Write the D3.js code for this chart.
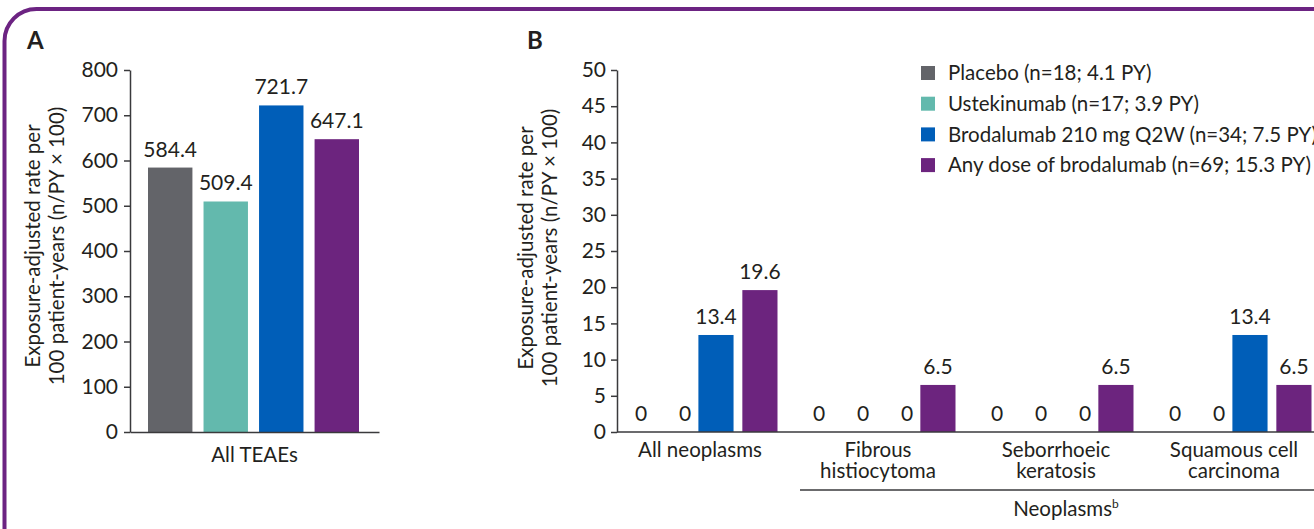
<!DOCTYPE html>
<html>
<head>
<meta charset="utf-8">
<script src="https://cdn.jsdelivr.net/npm/d3@7"></script>
<style>
  body { margin: 0; background: #fff; }
  svg { display: block; font-family: Lato, "Open Sans", sans-serif; }
  .axis path, .axis line { stroke: #3a3a3c; stroke-width: 1.5; }
  .axis text { font-size: 21px; fill: #231f20; font-family: Lato, sans-serif; }
  .lbl { font-size: 20.5px; fill: #231f20; }
  .val { font-size: 21px; fill: #231f20; }
</style>
</head>
<body>
<div id="chart"></div>
<script>
// series
var series = ["Placebo", "Ustekinumab", "Brodalumab 210 mg Q2W", "Any dose of brodalumab"];
var legendLabels = [
  "Placebo (n=18; 4.1 PY)",
  "Ustekinumab (n=17; 3.9 PY)",
  "Brodalumab 210 mg Q2W (n=34; 7.5 PY)",
  "Any dose of brodalumab (n=69; 15.3 PY)"
];
var colors = ["#636469", "#63b9ad", "#005eb8", "#6c247e"];

// panel A
var catsA = ["All TEAEs"];
var valuesA = [[584.4, 509.4, 721.7, 647.1]];
var ticksA = [0, 100, 200, 300, 400, 500, 600, 700, 800];

// panel B
var catsB = ["All neoplasms", "Fibrous histiocytoma", "Seborrhoeic keratosis", "Squamous cell carcinoma"];
var catsBLines = [["All neoplasms"], ["Fibrous", "histiocytoma"], ["Seborrhoeic", "keratosis"], ["Squamous cell", "carcinoma"]];
var valuesB = [
  [0, 0, 13.4, 19.6],
  [0, 0, 0, 6.5],
  [0, 0, 0, 6.5],
  [0, 0, 13.4, 6.5]
];
var ticksB = [0, 5, 10, 15, 20, 25, 30, 35, 40, 45, 50];

var W = 1314, H = 529;
var svg = d3.select("#chart").append("svg")
  .attr("width", W)
  .attr("height", H);

// purple frame
svg.append("rect")
  .attr("x", 4.5).attr("y", 9)
  .attr("width", W + 40).attr("height", H + 40)
  .attr("rx", 32).attr("ry", 32)
  .attr("fill", "none")
  .attr("stroke", "#6c2382")
  .attr("stroke-width", 4);

var fmt = function (v) { return v === 0 ? "0" : v.toFixed(1); };

function yTitle(x, cy) {
  var t = svg.append("text")
    .attr("class", "lbl")
    .attr("transform", "translate(" + x + "," + cy + ")rotate(-90)")
    .attr("text-anchor", "middle");
  t.append("tspan").attr("x", 0).attr("dy", 0).text("Exposure-adjusted rate per");
  t.append("tspan").attr("x", 0).attr("dy", 24).text("100 patient-years (n/PY × 100)");
}

// ---------- panel A ----------
var yA = d3.scaleLinear().domain([0, 800]).range([432, 70]);
var xA = d3.scaleBand().domain(catsA).range([130, 379]);
var xA1 = d3.scaleBand().domain(series).range([18, 229]).paddingInner(0.2);

svg.append("text").attr("x", 27).attr("y", 49)
  .style("font-size", "24px").style("font-weight", "bold").attr("fill", "#231f20").text("A");

yTitle(40, 246);

svg.append("g").attr("class", "axis")
  .attr("transform", "translate(130,0)")
  .call(d3.axisLeft(yA).tickValues(ticksA).tickSize(6).tickPadding(6).tickSizeOuter(0));

catsA.forEach(function (c, ci) {
  var g = svg.append("g").attr("transform", "translate(" + xA(c) + ",0)");
  var rows = series.map(function (s, i) { return { s: s, v: valuesA[ci][i], c: colors[i] }; });
  g.selectAll("rect").data(rows).enter().append("rect")
    .attr("x", function (d) { return xA1(d.s); })
    .attr("y", function (d) { return yA(d.v); })
    .attr("width", xA1.bandwidth())
    .attr("height", function (d) { return yA(0) - yA(d.v); })
    .attr("fill", function (d) { return d.c; });
  g.selectAll("text").data(rows).enter().append("text")
    .attr("class", "val")
    .attr("x", function (d) { return xA1(d.s) + xA1.bandwidth() / 2; })
    .attr("y", function (d) { return yA(d.v) - 11; })
    .attr("text-anchor", "middle")
    .text(function (d) { return fmt(d.v); });
});

svg.append("g").attr("class", "axis")
  .attr("transform", "translate(0,432)")
  .call(d3.axisBottom(xA).tickSize(0).tickPadding(12).tickSizeOuter(0))
  .selectAll("text").style("font-size", "20.5px").attr("dy", "0.9em");

// ---------- panel B ----------
var yB = d3.scaleLinear().domain([0, 50]).range([432, 70]);
var xB = d3.scaleBand().domain(catsB).range([605, 1317]);
var xB1 = d3.scaleBand().domain(series).range([5.5, 172.5]).paddingInner(0.2);

svg.append("text").attr("x", 527).attr("y", 49)
  .style("font-size", "24px").style("font-weight", "bold").attr("fill", "#231f20").text("B");

yTitle(533, 248);

svg.append("g").attr("class", "axis")
  .attr("transform", "translate(617,0)")
  .call(d3.axisLeft(yB).tickValues(ticksB).tickSize(6).tickPadding(5).tickSizeOuter(0));

catsB.forEach(function (c, ci) {
  var g = svg.append("g").attr("transform", "translate(" + xB(c) + ",0)");
  var rows = series.map(function (s, i) { return { s: s, v: valuesB[ci][i], c: colors[i] }; });
  g.selectAll("rect").data(rows.filter(function (d) { return d.v > 0; })).enter().append("rect")
    .attr("x", function (d) { return xB1(d.s); })
    .attr("y", function (d) { return yB(d.v); })
    .attr("width", xB1.bandwidth())
    .attr("height", function (d) { return yB(0) - yB(d.v); })
    .attr("fill", function (d) { return d.c; });
  g.selectAll("text").data(rows).enter().append("text")
    .attr("class", "val")
    .attr("x", function (d) { return xB1(d.s) + xB1.bandwidth() / 2 + (d.v === 0 ? 13 : 0); })
    .attr("y", function (d) { return yB(d.v) - 11; })
    .attr("text-anchor", "middle")
    .text(function (d) { return fmt(d.v); });
});

var axB = svg.append("g").attr("class", "axis")
  .attr("transform", "translate(0,432)")
  .call(d3.axisBottom(xB).tickSize(0).tickSizeOuter(0));
axB.select(".domain").attr("d", "M617,0H" + W);
axB.selectAll(".tick text").remove();

// category labels, one text per line
axB.selectAll(".tick").each(function (d, i) {
  var tick = d3.select(this);
  catsBLines[i].forEach(function (line, j) {
    tick.append("text")
      .attr("x", 6).attr("y", 25 + j * 21)
      .style("font-size", "20.5px")
      .attr("text-anchor", "middle")
      .text(line);
  });
});

// neoplasms bracket
var bx0 = xB(catsB[1]) + 17;
svg.append("line")
  .attr("x1", bx0).attr("x2", W)
  .attr("y1", 490).attr("y2", 490)
  .attr("stroke", "#3a3a3c").attr("stroke-width", 1.5);
var nt = svg.append("text").attr("class", "lbl")
  .attr("x", (xB(catsB[1]) + xB(catsB[3]) + xB.bandwidth()) / 2 + 16)
  .attr("y", 516)
  .attr("text-anchor", "middle");
nt.append("tspan").text("Neoplasms");
nt.append("tspan").attr("dy", -8).style("font-size", "12px").text("b");

// legend
var leg = svg.append("g").attr("transform", "translate(921,73)");
var li = leg.selectAll("g").data(legendLabels).enter().append("g")
  .attr("transform", function (d, i) { return "translate(0," + (i * 30.7) + ")"; });
li.append("rect").attr("x", 0).attr("y", -7).attr("width", 14).attr("height", 14)
  .attr("fill", function (d, i) { return colors[i]; });
li.append("text").attr("class", "lbl").attr("x", 27).attr("dy", "0.35em")
  .text(function (d) { return d; });
</script>
</body>
</html>
